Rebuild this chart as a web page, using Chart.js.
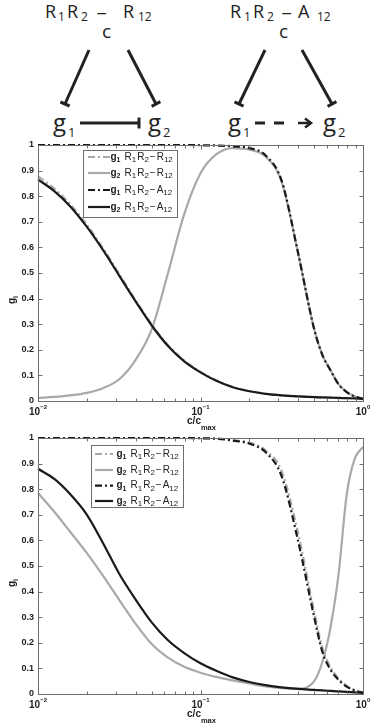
<!DOCTYPE html>
<html><head><meta charset="utf-8">
<script src="https://cdn.jsdelivr.net/npm/chart.js@4.4.1/dist/chart.umd.min.js"></script>
<style>
html,body{margin:0;padding:0;background:#fff;width:374px;height:727px;overflow:hidden;}
#wrap{position:relative;width:374px;height:727px;}
canvas{position:absolute;left:0;}
#c1{top:130px;} #c2{top:430px;}
svg{position:absolute;left:0;top:0;}
</style></head><body><div id="wrap">
<svg width="374" height="145" xmlns="http://www.w3.org/2000/svg">
 <g font-family="'Open Sans', 'DejaVu Sans', sans-serif" fill="#222">
  <text y="18" font-size="18"><tspan x="45">R</tspan><tspan x="58" dy="3" font-size="12">1</tspan><tspan x="67" dy="-3">R</tspan><tspan x="81" dy="3" font-size="12">2</tspan><tspan x="96" dy="-3" font-family="'DejaVu Sans'" font-size="14">−</tspan><tspan x="123">R</tspan><tspan x="138" dy="3" font-size="12">12</tspan></text>
  <text x="106.5" y="38" font-size="19" text-anchor="middle">c</text>
  <text y="18" font-size="18"><tspan x="230">R</tspan><tspan x="244" dy="3" font-size="12">1</tspan><tspan x="253" dy="-3">R</tspan><tspan x="267" dy="3" font-size="12">2</tspan><tspan x="281" dy="-3" font-family="'DejaVu Sans'" font-size="14">−</tspan><tspan x="298">A</tspan><tspan x="317" dy="3" font-size="12">12</tspan></text>
  <text x="283.5" y="38" font-size="19" text-anchor="middle">c</text>
  <text y="131" font-size="24"><tspan x="53">g</tspan><tspan x="68" dy="6" font-size="13">1</tspan></text>
  <text y="131" font-size="24"><tspan x="148">g</tspan><tspan x="163" dy="6" font-size="13">2</tspan></text>
  <text y="131" font-size="24"><tspan x="228">g</tspan><tspan x="243" dy="6" font-size="13">1</tspan></text>
  <text y="131" font-size="24"><tspan x="323">g</tspan><tspan x="338" dy="6" font-size="13">2</tspan></text>
 </g>
 <g stroke="#222" stroke-width="3" fill="none">
  <line x1="89" y1="50" x2="65" y2="104"/><line x1="60.4" y1="102" x2="69.6" y2="106"/>
  <line x1="128" y1="50" x2="156" y2="104"/><line x1="151.6" y1="106.3" x2="160.4" y2="101.7"/>
  <line x1="265" y1="50" x2="239" y2="104"/><line x1="234.5" y1="101.8" x2="243.5" y2="106.2"/>
  <line x1="302" y1="50" x2="332" y2="104"/><line x1="327.6" y1="106.4" x2="336.4" y2="101.6"/>
  <line x1="80" y1="123" x2="139" y2="123"/><line x1="139" y1="117.5" x2="139" y2="128.5"/>
  <line x1="255" y1="123" x2="265" y2="123"/><line x1="274" y1="123" x2="284" y2="123"/>
  <line x1="298" y1="123" x2="310" y2="123" stroke-width="2.5"/>
  <polyline points="305,118.5 311,123 305,127.5" stroke-width="2.5"/>
 </g>
</svg>
<canvas id="c1" width="374" height="305"></canvas>
<canvas id="c2" width="374" height="297"></canvas>
</div>
<script>
// x positions (c/c_max)
const cValues = [0.01, 0.0126, 0.0158, 0.02, 0.0251, 0.0316, 0.0398, 0.0501, 0.0631, 0.0794, 0.1, 0.126, 0.158, 0.2, 0.251, 0.316, 0.398, 0.501, 0.562, 0.631, 0.708, 0.794, 0.891, 1.0];

// top panel
const topG1R12 = [0.877, 0.83, 0.768, 0.688, 0.597, 0.496, 0.395, 0.299, 0.218, 0.158, 0.114, 0.08, 0.055, 0.039, 0.029, 0.022, 0.018, 0.015, 0.014, 0.013, 0.012, 0.011, 0.010, 0.007];
const topG2R12 = [0.012, 0.016, 0.022, 0.032, 0.05, 0.085, 0.16, 0.28, 0.5, 0.73, 0.89, 0.965, 0.988, 0.982, 0.955, 0.855, 0.58, 0.28, 0.18, 0.12, 0.065, 0.035, 0.018, 0.008];
const topG1A12 = [1, 1, 1, 1, 1, 1, 1, 1, 1, 1, 0.999, 0.998, 0.995, 0.988, 0.96, 0.86, 0.58, 0.28, 0.18, 0.12, 0.065, 0.035, 0.018, 0.008];
const topG2A12 = [0.865, 0.82, 0.76, 0.68, 0.59, 0.49, 0.39, 0.295, 0.215, 0.155, 0.112, 0.078, 0.054, 0.038, 0.028, 0.022, 0.018, 0.015, 0.014, 0.013, 0.012, 0.011, 0.010, 0.008];

// bottom panel
const botG1R12 = [1, 1, 1, 1, 1, 1, 1, 1, 1, 1, 0.999, 0.998, 0.992, 0.982, 0.952, 0.87, 0.63, 0.32, 0.18, 0.105, 0.06, 0.032, 0.015, 0.005];
const botG2R12 = [0.785, 0.712, 0.633, 0.55, 0.462, 0.368, 0.275, 0.195, 0.142, 0.106, 0.083, 0.066, 0.053, 0.041, 0.03, 0.023, 0.021, 0.05, 0.125, 0.26, 0.47, 0.78, 0.92, 0.965];
const botG1A12 = [1, 1, 1, 1, 1, 1, 1, 1, 1, 1, 0.999, 0.997, 0.99, 0.978, 0.945, 0.85, 0.6, 0.3, 0.165, 0.095, 0.055, 0.029, 0.013, 0.005];
const botG2A12 = [0.88, 0.84, 0.78, 0.7, 0.59, 0.47, 0.37, 0.28, 0.21, 0.16, 0.12, 0.09, 0.065, 0.047, 0.035, 0.026, 0.02, 0.016, 0.014, 0.012, 0.01, 0.008, 0.006, 0.004];

// ticks
const yTickValues = [0, 0.1, 0.2, 0.3, 0.4, 0.5, 0.6, 0.7, 0.8, 0.9, 1];
const yTickLabels = ['0', '0.1', '0.2', '0.3', '0.4', '0.5', '0.6', '0.7', '0.8', '0.9', '1'];
const xMajorTicks = [0.01, 0.1, 1];
const xMajorExponents = ['−2', '−1', '0'];
const xMinorTicks = [0.02, 0.03, 0.04, 0.05, 0.06, 0.07, 0.08, 0.09, 0.2, 0.3, 0.4, 0.5, 0.6, 0.7, 0.8, 0.9];

// legend
const legendGene = ['1', '2', '1', '2'];
const legendNet = ['R', 'R', 'A', 'A'];

const GRAY = '#a9a9a9', BLACK = '#1a1a1a';
const styles = [
  {color: GRAY, dash: [7, 3, 2, 3]},
  {color: GRAY, dash: []},
  {color: BLACK, dash: [7, 3, 2, 3]},
  {color: BLACK, dash: []}
];

function pts(arr) { return cValues.map((c, i) => ({x: c, y: arr[i]})); }

function drawRich(ctx, x, y, parts) {
  let cx = x;
  for (const p of parts) {
    const size = p.sub ? p.size || 8 : p.size || 10;
    ctx.font = (p.bold ? 'bold ' : '') + size + 'px "Liberation Sans", Arial, sans-serif';
    ctx.fillText(p.t, cx, y + (p.sub ? (p.dy || 3) : (p.up || 0)));
    cx += ctx.measureText(p.t).width + (p.gap || 0);
  }
  return cx - x;
}
function richWidth(ctx, parts) {
  let w = 0;
  for (const p of parts) {
    const size = p.sub ? p.size || 8 : p.size || 10;
    ctx.font = (p.bold ? 'bold ' : '') + size + 'px "Liberation Sans", Arial, sans-serif';
    w += ctx.measureText(p.t).width + (p.gap || 0);
  }
  return w;
}

const matlab = {
  id: 'matlab',
  afterDraw(chart, args, o) {
    const {ctx, chartArea: a, scales: {x, y}} = chart;
    ctx.save();
    ctx.strokeStyle = '#6e6e6e';
    ctx.lineWidth = 1;
    const L = Math.round(a.left) + 0.5, R = Math.round(a.right) + 0.5;
    const T = Math.round(a.top) + 0.5, B = Math.round(a.bottom) + 0.5;
    ctx.strokeRect(L, T, R - L, B - T);
    ctx.beginPath();
    yTickValues.forEach(v => {
      const py = Math.round(y.getPixelForValue(v)) + 0.5;
      ctx.moveTo(L, py); ctx.lineTo(L + 4, py);
      ctx.moveTo(R, py); ctx.lineTo(R - 4, py);
    });
    xMajorTicks.forEach(v => {
      const px = Math.round(x.getPixelForValue(v)) + 0.5;
      ctx.moveTo(px, B); ctx.lineTo(px, B - 4);
      ctx.moveTo(px, T); ctx.lineTo(px, T + 4);
    });
    xMinorTicks.forEach(v => {
      const px = Math.round(x.getPixelForValue(v)) + 0.5;
      ctx.moveTo(px, B); ctx.lineTo(px, B - 3);
      ctx.moveTo(px, T); ctx.lineTo(px, T + 3);
    });
    ctx.stroke();

    // y tick labels
    ctx.fillStyle = '#222';
    ctx.font = 'bold 9px "Liberation Sans", Arial, sans-serif';
    ctx.textAlign = 'right';
    ctx.textBaseline = 'middle';
    yTickValues.forEach((v, i) => {
      ctx.fillText(yTickLabels[i], a.left - 4, y.getPixelForValue(v));
    });
    // x tick labels with exponents
    ctx.textAlign = 'left';
    ctx.textBaseline = 'alphabetic';
    xMajorTicks.forEach((v, i) => {
      const parts = [{t: '10', bold: true, size: 10}, {t: xMajorExponents[i], bold: true, sub: true, size: 6, dy: -6.5}];
      const w = richWidth(ctx, parts);
      const px = x.getPixelForValue(v);
      drawRich(ctx, px - w / 2, a.bottom + 14, parts);
    });
    // x title c/c_max
    const tparts = [{t: 'c/c', bold: true, size: 10}, {t: 'max', bold: true, sub: true, size: 7.5, dy: 5.5}];
    const tw = richWidth(ctx, tparts);
    drawRich(ctx, (a.left + a.right) / 2 - tw / 2 + 1, a.bottom + 23, tparts);
    // y title g_i
    ctx.save();
    ctx.translate(15, o.ylabelY);
    ctx.rotate(-Math.PI / 2);
    const yparts = [{t: 'g', bold: true, size: 10}, {t: 'i', bold: true, sub: true, size: 7, dy: 3}];
    const yw = richWidth(ctx, yparts);
    drawRich(ctx, -yw / 2, 0, yparts);
    ctx.restore();

    // legend
    const lg = o.legend;
    ctx.fillStyle = '#fff';
    ctx.fillRect(lg.x, lg.y, lg.w, lg.h);
    ctx.strokeStyle = '#6e6e6e';
    ctx.lineWidth = 1;
    ctx.strokeRect(lg.x + 0.5, lg.y + 0.5, lg.w, lg.h);
    lg.rows.forEach((ry, i) => {
      const st = styles[i];
      ctx.strokeStyle = st.color;
      ctx.lineWidth = 2.2;
      ctx.setLineDash(st.dash);
      ctx.beginPath();
      ctx.moveTo(lg.s0, ry); ctx.lineTo(lg.s1, ry);
      ctx.stroke();
      ctx.setLineDash([]);
      ctx.fillStyle = '#222';
      ctx.textBaseline = 'middle';
      drawRich(ctx, lg.tx, ry, [
        {t: 'g', bold: true, size: 10}, {t: legendGene[i], bold: true, sub: true, size: 7, dy: 3, gap: 4},
        {t: 'R', size: 10}, {t: '1', sub: true, size: 8, gap: 1},
        {t: 'R', size: 10}, {t: '2', sub: true, size: 8, gap: 1},
        {t: '−', size: 10, gap: 1},
        {t: legendNet[i], size: 10}, {t: '12', sub: true, size: 8}
      ]);
    });
    ctx.restore();
  }
};

function makeChart(id, series, pad, pluginOpts) {
  return new Chart(document.getElementById(id), {
    type: 'line',
    data: {
      datasets: series.map((s, i) => ({
        data: pts(s),
        borderColor: styles[i].color,
        borderDash: styles[i].dash,
        borderWidth: 2.2,
        pointRadius: 0,
        fill: false,
        cubicInterpolationMode: 'monotone',
        clip: 4,
        order: series.length - 1 - i
      }))
    },
    options: {
      responsive: false,
      animation: false,
      devicePixelRatio: 1,
      layout: {padding: pad},
      plugins: {legend: {display: false}, tooltip: {enabled: false}, matlab: pluginOpts},
      scales: {
        x: {type: 'logarithmic', min: 0.01, max: 1, ticks: {display: false}, grid: {display: false}, border: {display: false}, afterFit(s) { s.height = 0; }},
        y: {type: 'linear', min: 0, max: 1, ticks: {display: false}, grid: {display: false}, border: {display: false}, afterFit(s) { s.width = 0; }}
      }
    },
    plugins: [matlab]
  });
}

makeChart('c1', [topG1R12, topG2R12, topG1A12, topG2A12],
  {left: 38, right: 11, top: 15, bottom: 34},
  {ylabelY: 170, legend: {x: 83, y: 20, w: 94, h: 67, rows: [27, 43, 60, 77], s0: 88, s1: 110, tx: 110.5}});
makeChart('c2', [botG1R12, botG2R12, botG1A12, botG2A12],
  {left: 38, right: 11, top: 8, bottom: 33},
  {ylabelY: 153, legend: {x: 91, y: 15, w: 92, h: 62, rows: [24, 40, 55.7, 71], s0: 95, s1: 113, tx: 116.5}});
</script>
</body></html>
